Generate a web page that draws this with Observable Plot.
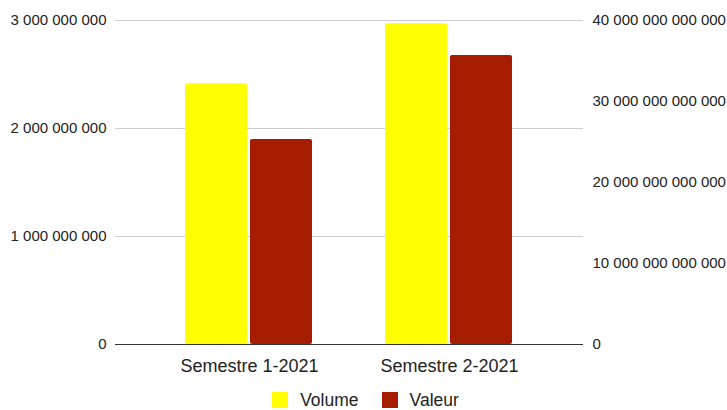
<!DOCTYPE html>
<html>
<head>
<meta charset="utf-8">
<script src="https://cdn.jsdelivr.net/npm/d3@7"></script>
<script src="https://cdn.jsdelivr.net/npm/@observablehq/plot@0.6"></script>
<style>
  body { margin: 0; background: #fff; font-family: "Liberation Sans", Arial, sans-serif; }
  #legend { display: flex; justify-content: center; gap: 23px; margin-top: 11px; margin-left: 4px; font-size: 17.5px; color: #222; line-height: 18px; }
  #legend span.item { display: flex; align-items: center; }
  #legend span.sw { display: inline-block; width: 16px; height: 16px; margin-right: 12px; }
</style>
</head>
<body>
<div id="chart"></div>
<script>
const categories = ["Semestre 1-2021", "Semestre 2-2021"];
const volume = [2414000000, 2969000000];
const valeur = [25310000000000, 35680000000000];
const leftTicks = [0, 1000000000, 2000000000, 3000000000];
const rightTicks = [0, 10000000000000, 20000000000000, 30000000000000, 40000000000000];
const seriesNames = ["Volume", "Valeur"];
const seriesColors = ["#ffff00", "#a61c00"];

const leftMax = 3000000000, rightMax = 40000000000000;
const k = leftMax / rightMax;
const fmt = v => d3.format(",.0f")(v).replace(/,/g, " ");

const volData = categories.map((c, i) => ({cat: c, v: volume[i]}));
const valData = categories.map((c, i) => ({cat: c, v: valeur[i] * k}));

const W = 727, H = 380;
const chart = Plot.plot({
  width: W, height: H,
  marginLeft: 115, marginRight: 144, marginTop: 20, marginBottom: 36,
  style: {fontFamily: "'Liberation Sans', Arial, sans-serif", fontSize: "15px", color: "#222", background: "#fff", overflow: "visible"},
  x: {domain: categories, range: [149, 549], padding: 0, label: null},
  y: {domain: [0, leftMax], label: null},
  marks: [
    Plot.gridY(leftTicks, {stroke: "#cccccc", strokeOpacity: 1}),
    Plot.barY(volData, {x: "cat", y: "v", fill: seriesColors[0], insetLeft: 36, insetRight: 102, rx: 2}),
    Plot.barY(valData, {x: "cat", y: "v", fill: seriesColors[1], insetLeft: 101, insetRight: 37, rx: 2}),
    Plot.ruleY([0], {stroke: "#333"}),
    Plot.axisY(leftTicks, {anchor: "left", tickSize: 0, tickPadding: 9, tickFormat: fmt, label: null, fontSize: 15}),
    Plot.axisY(rightTicks.map(t => t * k), {anchor: "right", tickSize: 0, tickPadding: 9, tickFormat: t => fmt(Math.round(t / k)), label: null, fontSize: 15}),
    Plot.axisX({tickSize: 0, tickPadding: 15, label: null, fontSize: 18})
  ]
});
document.getElementById("chart").appendChild(chart);

const legend = document.createElement("div");
legend.id = "legend";
seriesNames.forEach((n, i) => {
  const it = document.createElement("span");
  it.className = "item";
  const sw = document.createElement("span");
  sw.className = "sw";
  sw.style.background = seriesColors[i];
  it.appendChild(sw);
  it.appendChild(document.createTextNode(n));
  legend.appendChild(it);
});
document.body.appendChild(legend);
</script>
</body>
</html>
